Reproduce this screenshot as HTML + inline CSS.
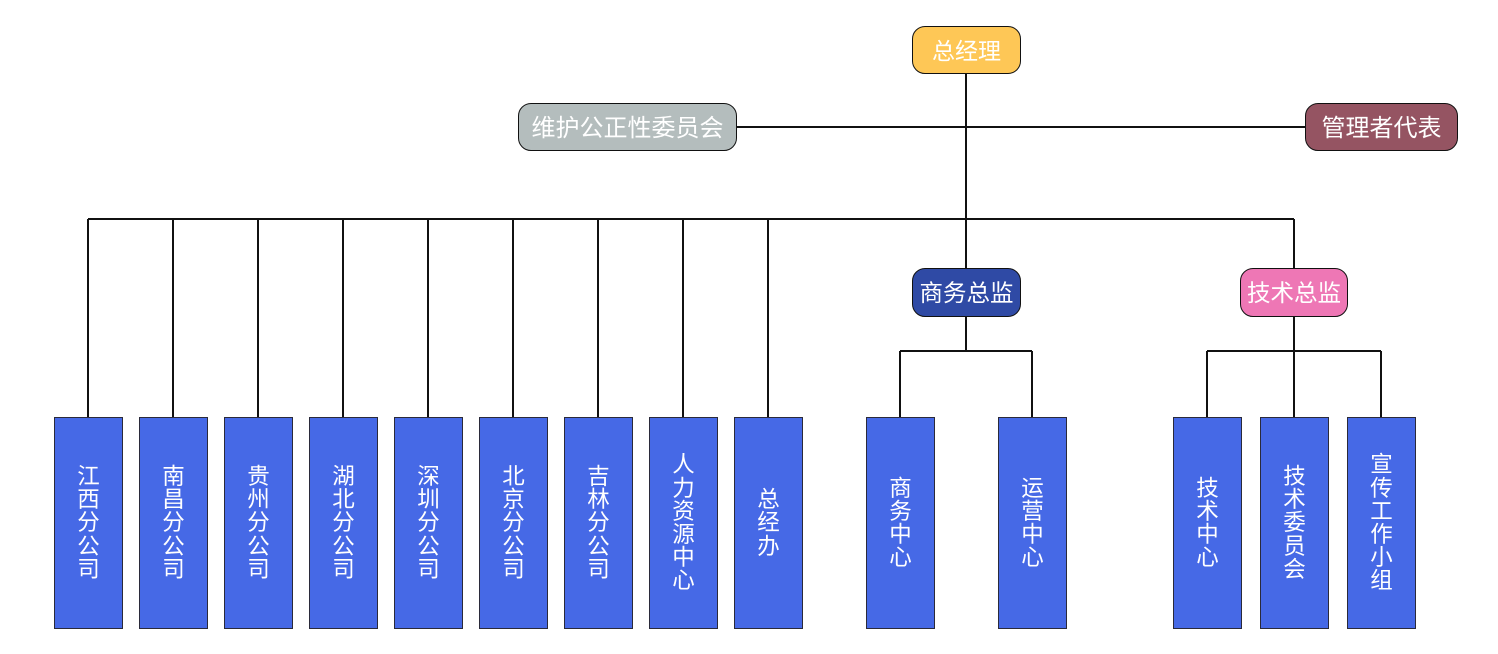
<!DOCTYPE html>
<html>
<head>
<meta charset="utf-8">
<style>
  html,body{margin:0;padding:0;background:#fff;}
  body{width:1498px;height:654px;position:relative;overflow:hidden;font-family:"Liberation Sans","Noto Sans CJK SC",sans-serif;}
  .node{position:absolute;box-sizing:border-box;border:1.5px solid #111;border-radius:13px;color:#fff;font-size:23px;display:flex;align-items:center;justify-content:center;white-space:nowrap;padding-bottom:3px;}
  .box{position:absolute;box-sizing:border-box;border:1px solid #2a2a3a;background:#4669e6;color:#fff;font-size:22.5px;line-height:23.2px;display:flex;align-items:center;justify-content:center;text-align:center;top:417px;height:212px;width:69px;}
  .box span{display:block;width:1em;word-break:break-all;}
  svg{position:absolute;left:0;top:0;}
</style>
</head>
<body>
<svg width="1498" height="654" viewBox="0 0 1498 654">
  <g stroke="#111" stroke-width="2" fill="none">
    <line x1="966" y1="73" x2="966" y2="268"/>
    <line x1="737" y1="127" x2="1305" y2="127"/>
    <line x1="88" y1="219" x2="1294" y2="219"/>
    <line x1="1294" y1="219" x2="1294" y2="268"/>
    <line x1="88" y1="219" x2="88" y2="417"/>
    <line x1="173" y1="219" x2="173" y2="417"/>
    <line x1="258" y1="219" x2="258" y2="417"/>
    <line x1="343" y1="219" x2="343" y2="417"/>
    <line x1="428" y1="219" x2="428" y2="417"/>
    <line x1="513" y1="219" x2="513" y2="417"/>
    <line x1="598" y1="219" x2="598" y2="417"/>
    <line x1="683" y1="219" x2="683" y2="417"/>
    <line x1="768" y1="219" x2="768" y2="417"/>
    <line x1="966" y1="316" x2="966" y2="351"/>
    <line x1="900" y1="351" x2="1032" y2="351"/>
    <line x1="900" y1="351" x2="900" y2="417"/>
    <line x1="1032" y1="351" x2="1032" y2="417"/>
    <line x1="1294" y1="316" x2="1294" y2="417"/>
    <line x1="1207" y1="351" x2="1381" y2="351"/>
    <line x1="1207" y1="351" x2="1207" y2="417"/>
    <line x1="1381" y1="351" x2="1381" y2="417"/>
  </g>
</svg>

<div class="node" style="left:912px;top:26px;width:109px;height:48px;background:#fec756;">总经理</div>
<div class="node" style="left:518px;top:103px;width:219px;height:48px;background:#b4bdbd;font-size:24px;">维护公正性委员会</div>
<div class="node" style="left:1305px;top:103px;width:153px;height:48px;background:#955462;font-size:24px;">管理者代表</div>
<div class="node" style="left:912px;top:268px;width:109px;height:49px;background:#2f4aa5;font-size:23.5px;">商务总监</div>
<div class="node" style="left:1240px;top:268px;width:108px;height:49px;background:#ee77b5;font-size:23.5px;">技术总监</div>

<div class="box" style="left:54px;"><span>江西分公司</span></div>
<div class="box" style="left:139px;"><span>南昌分公司</span></div>
<div class="box" style="left:224px;"><span>贵州分公司</span></div>
<div class="box" style="left:309px;"><span>湖北分公司</span></div>
<div class="box" style="left:394px;"><span>深圳分公司</span></div>
<div class="box" style="left:479px;"><span>北京分公司</span></div>
<div class="box" style="left:564px;"><span>吉林分公司</span></div>
<div class="box" style="left:649px;"><span>人力资源中心</span></div>
<div class="box" style="left:734px;"><span>总经办</span></div>
<div class="box" style="left:866px;"><span>商务中心</span></div>
<div class="box" style="left:998px;"><span>运营中心</span></div>
<div class="box" style="left:1173px;"><span>技术中心</span></div>
<div class="box" style="left:1260px;"><span>技术委员会</span></div>
<div class="box" style="left:1347px;"><span>宣传工作小组</span></div>
</body>
</html>
